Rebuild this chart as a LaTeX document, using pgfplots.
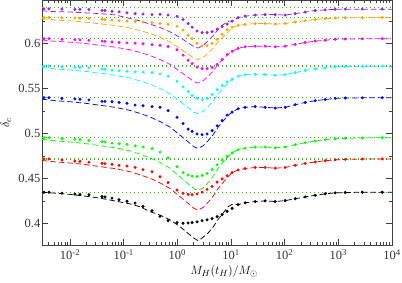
\documentclass[border=0pt]{standalone}
\usepackage{pgfplots}
\pgfplotsset{compat=1.18}
\usepackage{pgfplotstable}
\usepackage{fontspec}
\setmainfont{Liberation Serif}
\definecolor{cK}{rgb}{0,0,0}
\definecolor{cR}{rgb}{1,0,0}
\definecolor{cG}{rgb}{0,1,0}
\definecolor{cB}{rgb}{0,0,1}
\definecolor{cC}{rgb}{0,1,1}
\definecolor{cM}{rgb}{1,0,1}
\definecolor{cO}{rgb}{1,0.647,0}
\definecolor{cP}{RGB}{150,30,220}
\definecolor{cD}{RGB}{80,170,60}
\pgfplotstableread{
x k r g b c m o p
0.00299 0.4350 0.4703 0.4937 0.5383 0.5734 0.6040 0.6276 0.6364
0.00546 0.4339 0.4686 0.4920 0.5366 0.5718 0.6025 0.6262 0.6355
0.00996 0.4326 0.4675 0.4908 0.5355 0.5708 0.6016 0.6253 0.6351
0.01897 0.4307 0.4658 0.4891 0.5338 0.5692 0.6001 0.6239 0.6342
0.0361 0.4285 0.4635 0.4867 0.5316 0.5671 0.5981 0.6220 0.6333
0.0689 0.4253 0.4612 0.4844 0.5293 0.5649 0.5961 0.6201 0.6319
0.1312 0.4221 0.4578 0.4809 0.5259 0.5618 0.5932 0.6173 0.6279
0.2014 0.4189 0.4544 0.4773 0.5225 0.5586 0.5902 0.6145 0.6252
0.3097 0.4135 0.4505 0.4732 0.5186 0.5549 0.5868 0.6113 0.6216
0.4756 0.4097 0.4454 0.4680 0.5135 0.5501 0.5823 0.6071 0.6180
0.7307 0.4043 0.4391 0.4615 0.5073 0.5443 0.5769 0.6019 0.6131
1.122 0.3968 0.4300 0.4521 0.4983 0.5359 0.5690 0.5944 0.6068
1.584 0.3893 0.4227 0.4445 0.4910 0.5290 0.5626 0.5884 0.6009
2.050 0.3839 0.4170 0.4387 0.4854 0.5237 0.5577 0.5837 0.5964
2.434 0.3812 0.4153 0.4369 0.4837 0.5221 0.5562 0.5823 0.5951
3.016 0.3850 0.4181 0.4398 0.4865 0.5247 0.5587 0.5846 0.5978
3.741 0.3898 0.4238 0.4457 0.4921 0.5300 0.5636 0.5893 0.6032
4.636 0.3963 0.4306 0.4527 0.4989 0.5364 0.5695 0.5949 0.6086
5.746 0.4049 0.4391 0.4615 0.5073 0.5443 0.5769 0.6019 0.6158
7.122 0.4119 0.4459 0.4685 0.5141 0.5507 0.5828 0.6075 0.6211
8.827 0.4189 0.4522 0.4750 0.5203 0.5565 0.5882 0.6127 0.6247
10.47 0.4215 0.4569 0.4787 0.5240 0.5605 0.5915 0.6182 0.6250
13.55 0.4212 0.4597 0.4822 0.5277 0.5638 0.5948 0.6201 0.6289
18.32 0.4233 0.4613 0.4839 0.5293 0.5653 0.5965 0.6213 0.6305
28.18 0.4247 0.4625 0.4852 0.5301 0.5660 0.5972 0.6223 0.6317
43.25 0.4254 0.4625 0.4852 0.5293 0.5657 0.5972 0.6223 0.6322
66.53 0.4247 0.4617 0.4843 0.5285 0.5649 0.5965 0.6217 0.6322
102.1 0.4257 0.4625 0.4852 0.5293 0.5657 0.5972 0.6223 0.6317
157.0 0.4278 0.4649 0.4878 0.5322 0.5679 0.5992 0.6239 0.6333
241.5 0.4298 0.4670 0.4901 0.5347 0.5702 0.6012 0.6255 0.6350
370.7 0.4316 0.4686 0.4918 0.5367 0.5720 0.6028 0.6268 0.6367
570.2 0.4333 0.4700 0.4934 0.5379 0.5731 0.6038 0.6277 0.6375
875 0.4343 0.4709 0.4943 0.5392 0.5743 0.6048 0.6284 0.6381
1346 0.4347 0.4715 0.4949 0.5396 0.5746 0.6052 0.6287 0.6383
2793 0.4350 0.4718 0.4953 0.5398 0.5748 0.6053 0.6288 0.6383
6592 0.4350 0.4720 0.4955 0.5400 0.5750 0.6055 0.6290 0.6383
10000 0.4350 0.4720 0.4955 0.5400 0.5750 0.6055 0.6290 0.6383
}\dashedtab
\pgfplotstableread{
x k r g b c m o p
0.00326 0.4350 0.4720 0.4955 0.5400 0.5750 0.6055 0.6290 0.6386
0.00404 0.4350 0.4720 0.4955 0.5400 0.5750 0.6055 0.6290 0.6386
0.00706 0.4340 0.4708 0.4946 0.5392 0.5743 0.6048 0.6287 0.6383
0.0123 0.4329 0.4696 0.4938 0.5386 0.5739 0.6045 0.6284 0.6381
0.0153 0.4326 0.4692 0.4934 0.5382 0.5735 0.6042 0.6282 0.6381
0.0225 0.4322 0.4684 0.4925 0.5375 0.5731 0.6038 0.6280 0.6378
0.0394 0.4302 0.4672 0.4912 0.5359 0.5720 0.6028 0.6271 0.6369
0.0448 0.4298 0.4668 0.4908 0.5359 0.5716 0.6025 0.6268 0.6367
0.0605 0.4285 0.4660 0.4895 0.5355 0.5705 0.6018 0.6261 0.6358
0.0818 0.4267 0.4649 0.4888 0.5347 0.5698 0.6012 0.6255 0.6353
0.115 0.4250 0.4641 0.4882 0.5338 0.5694 0.6008 0.6249 0.6342
0.163 0.4230 0.4625 0.4865 0.5318 0.5687 0.6005 0.6244 0.6333
0.229 0.4192 0.4601 0.4852 0.5310 0.5683 0.5998 0.6239 0.6328
0.337 0.4144 0.4577 0.4835 0.5301 0.5679 0.5988 0.6233 0.6322
0.475 0.4082 0.4522 0.4796 0.5293 0.5664 0.5982 0.6223 0.6325
0.671 0.4034 0.4458 0.4731 0.5256 0.5638 0.5968 0.6213 0.6317
0.986 0.4013 0.4375 0.4633 0.5182 0.5582 0.5932 0.6194 0.6303
1.276 0.4006 0.4339 0.4568 0.5112 0.5519 0.5872 0.6150 0.6267
1.585 0.4009 0.4327 0.4542 0.5051 0.5467 0.5815 0.6092 0.6222
1.879 0.4013 0.4323 0.4529 0.5026 0.5425 0.5779 0.6054 0.6183
2.328 0.4021 0.4331 0.4525 0.4997 0.5392 0.5739 0.6003 0.6139
2.891 0.4034 0.4351 0.4538 0.4989 0.5377 0.5722 0.5974 0.6122
3.581 0.4044 0.4383 0.4559 0.4997 0.5392 0.5722 0.5977 0.6122
4.436 0.4058 0.4414 0.4602 0.5034 0.5437 0.5735 0.6003 0.6133
5.508 0.4080 0.4462 0.4654 0.5088 0.5489 0.5769 0.6048 0.6161
6.823 0.4102 0.4498 0.4706 0.5145 0.5534 0.5822 0.6102 0.6189
8.453 0.4137 0.4533 0.4749 0.5207 0.5575 0.5879 0.6156 0.6217
10.47 0.4171 0.4569 0.4787 0.5240 0.5605 0.5915 0.6182 0.6250
13.55 0.4212 0.4597 0.4822 0.5277 0.5638 0.5948 0.6201 0.6289
18.32 0.4233 0.4613 0.4839 0.5293 0.5653 0.5965 0.6213 0.6305
28.18 0.4247 0.4625 0.4852 0.5301 0.5660 0.5972 0.6223 0.6317
43.25 0.4254 0.4625 0.4852 0.5293 0.5657 0.5972 0.6223 0.6322
66.53 0.4247 0.4617 0.4843 0.5285 0.5649 0.5965 0.6217 0.6322
102.1 0.4257 0.4625 0.4852 0.5293 0.5657 0.5972 0.6223 0.6317
157.0 0.4278 0.4649 0.4878 0.5322 0.5679 0.5992 0.6239 0.6333
241.5 0.4298 0.4670 0.4901 0.5347 0.5702 0.6012 0.6255 0.6350
370.7 0.4316 0.4686 0.4918 0.5367 0.5720 0.6028 0.6268 0.6367
570.2 0.4333 0.4700 0.4934 0.5379 0.5731 0.6038 0.6277 0.6375
875 0.4343 0.4709 0.4943 0.5392 0.5743 0.6048 0.6284 0.6381
1346 0.4347 0.4715 0.4949 0.5396 0.5746 0.6052 0.6287 0.6383
2793 0.4350 0.4718 0.4953 0.5398 0.5748 0.6053 0.6288 0.6383
6592 0.4350 0.4720 0.4955 0.5400 0.5750 0.6055 0.6290 0.6383
}\pointtab
\begin{document}
\begin{tikzpicture}
\begin{axis}[
  scale only axis, width=350pt, height=245pt,
  xmode=log, xmin=0.003, xmax=10000, ymin=0.376, ymax=0.648,
  axis line style={black!75, line width=0.8pt},
  tick style={black!75, line width=0.6pt},
  major tick length=6pt, minor tick length=3pt,
  tick align=inside, xtick pos=both, ytick pos=both,
  xtick={0.01,0.1,1,10,100,1000,10000},
  xticklabels={10\textsuperscript{-2},10\textsuperscript{-1},10\textsuperscript{0},10\textsuperscript{1},10\textsuperscript{2},10\textsuperscript{3},10\textsuperscript{4}},
  minor xtick={0.003,0.004,0.005,0.006,0.007,0.008,0.009,0.02,0.03,0.04,0.05,0.06,0.07,0.08,0.09,0.2,0.3,0.4,0.5,0.6,0.7,0.8,0.9,2,3,4,5,6,7,8,9,20,30,40,50,60,70,80,90,200,300,400,500,600,700,800,900,2000,3000,4000,5000,6000,7000,8000,9000},
  ytick={0.4,0.45,0.5,0.55,0.6},
  minor ytick={0.425,0.475,0.525,0.575,0.625},
  yticklabels={0.4,0.45,0.5,0.55,0.6},
  ticklabel style={font=\fontsize{12.5}{14}\selectfont, black!80},
  yticklabel style={inner sep=1.5pt},
  xticklabel style={inner sep=2pt, yshift=-2pt},
  xlabel={$M_H(t_H)/M_\odot$},
  ylabel={$\delta_c$},
  label style={font=\fontsize{12.5}{14}\selectfont},
  xlabel style={at={(axis description cs:0.52,-0.108)}, anchor=center},
  ylabel style={at={(axis description cs:-0.103,0.5)}, anchor=center},
  clip=true,
]
% threshold lines
\foreach \v in {0.435,0.472,0.4955,0.540,0.575,0.6055,0.629,0.640}{
  \edef\tmp{\noexpand\addplot[cD, line width=1.3pt, dash pattern=on 1.3pt off 2.7pt] coordinates {(0.003,\v) (10000,\v)};}
  \tmp
}
% dashed curves
\addplot[cK, line width=0.75pt, dash pattern=on 5.5pt off 3pt] table[x=x,y=k]{\dashedtab};
\addplot[cR, line width=0.75pt, dash pattern=on 5.5pt off 3pt] table[x=x,y=r]{\dashedtab};
\addplot[cG, line width=0.75pt, dash pattern=on 5.5pt off 3pt] table[x=x,y=g]{\dashedtab};
\addplot[cB, line width=0.75pt, dash pattern=on 5.5pt off 3pt] table[x=x,y=b]{\dashedtab};
\addplot[cC, line width=0.75pt, dash pattern=on 5.5pt off 3pt] table[x=x,y=c]{\dashedtab};
\addplot[cM, line width=0.75pt, dash pattern=on 5.5pt off 3pt] table[x=x,y=m]{\dashedtab};
\addplot[cO, line width=0.75pt, dash pattern=on 5.5pt off 3pt] table[x=x,y=o]{\dashedtab};
\addplot[cP, line width=0.75pt, dash pattern=on 5.5pt off 3pt] table[x=x,y=p]{\dashedtab};
% numerical points
\addplot[only marks, mark=*, mark size=1.3pt, cK] table[x=x,y=k]{\pointtab};
\addplot[only marks, mark=*, mark size=1.3pt, cR] table[x=x,y=r]{\pointtab};
\addplot[only marks, mark=*, mark size=1.3pt, cG] table[x=x,y=g]{\pointtab};
\addplot[only marks, mark=*, mark size=1.3pt, cB] table[x=x,y=b]{\pointtab};
\addplot[only marks, mark=*, mark size=1.3pt, cC] table[x=x,y=c]{\pointtab};
\addplot[only marks, mark=*, mark size=1.3pt, cM] table[x=x,y=m]{\pointtab};
\addplot[only marks, mark=*, mark size=1.3pt, cO] table[x=x,y=o]{\pointtab};
\addplot[only marks, mark=*, mark size=1.3pt, cP] table[x=x,y=p]{\pointtab};
\end{axis}
\pgfresetboundingbox
\path[use as bounding box] (-42pt,-37pt) rectangle (360pt,245.4pt);
\end{tikzpicture}
\end{document}
